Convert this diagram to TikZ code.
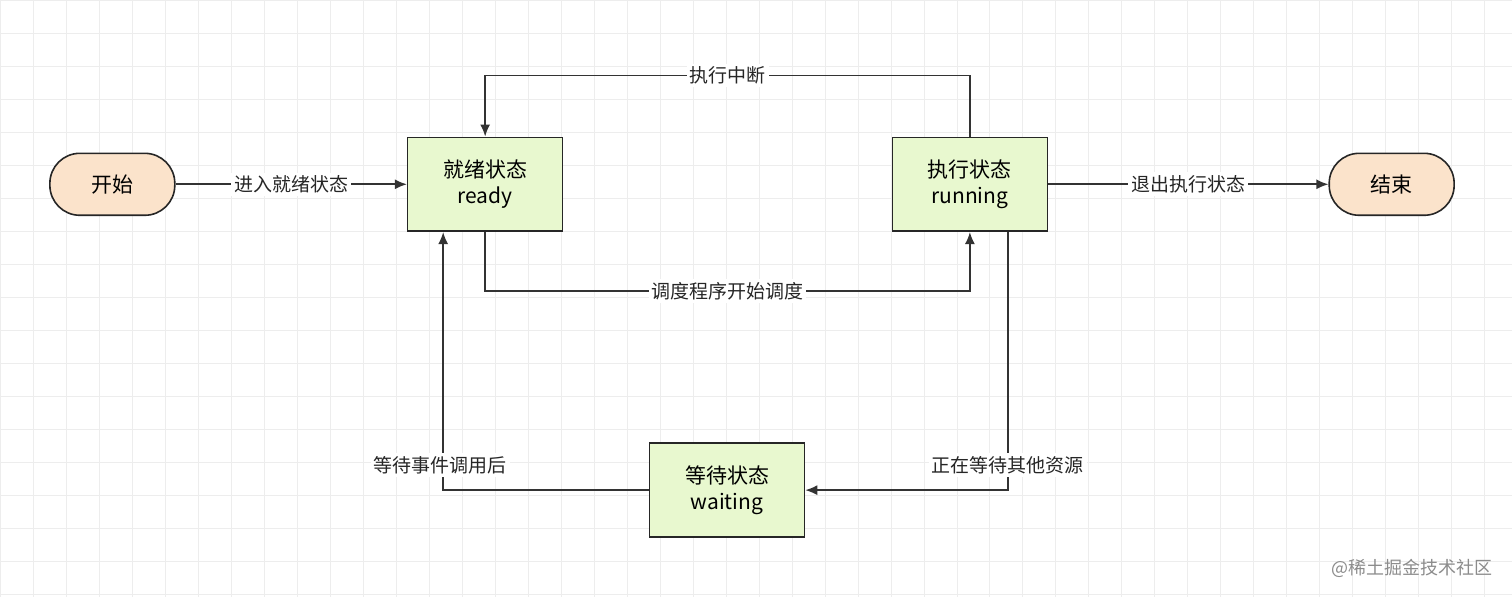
\documentclass[tikz,border=0pt]{standalone}
\usepackage{fontspec}
\setmainfont{Noto Sans CJK SC}
\definecolor{peach}{HTML}{FBE3CB}
\definecolor{lgreen}{HTML}{E8F8CF}
\definecolor{gridc}{HTML}{EDEDED}
\tikzset{
  term/.style={draw=black!85,thick,fill=peach,rounded corners=15pt,minimum width=62.5pt,minimum height=31pt,font=\fontsize{10.5}{12}\selectfont},
  state/.style={draw=black!85,thick,fill=lgreen,minimum width=77.5pt,minimum height=47pt,align=center,font=\fontsize{10.5}{13}\selectfont},
  lbl/.style={fill=white,inner sep=1.5pt,font=\fontsize{9.5}{11}\selectfont,text=black!85},
  conn/.style={draw=black!80,thick,-{Latex[length=6pt,width=5pt]}}
}
\usetikzlibrary{arrows.meta}
\begin{document}
\begin{tikzpicture}[x=0.5pt,y=-0.5pt]
\fill[white] (0,0) rectangle (1512,597);
\draw[gridc,line width=0.4pt,step=16.5pt] (0,0) grid (1512,597);
\useasboundingbox (0,0) rectangle (1512,597);

\node[term] (start) at (112,184) {开始};
\node[state] (ready) at (485,184) {就绪状态\\ready};
\node[state] (run) at (970,184) {执行状态\\running};
\node[term] (stop) at (1392,184) {结束};
\node[state] (wait) at (727,490) {等待状态\\waiting};

\path[conn] (start) -- node[lbl] {进入就绪状态} (ready);
\path[conn] (run) -- node[lbl] {退出执行状态} (stop);
\path[conn] (run.north) -- ++(0,-61) -| node[lbl,pos=0.25] {执行中断} (ready.north);
\path[conn] (ready.south) -- ++(0,59) -| node[lbl,pos=0.25] {调度程序开始调度} (run.south);
\path[conn] ([xshift=19pt]run.south) |- (wait.east);
\path[conn] (wait.west) -| ([xshift=-21pt]ready.south);
\node[lbl] (l1) at (1008,465) {正在等待其他资源};
\node[lbl] (l2) at (440,465) {等待事件调用后};
\node[font=\fontsize{9}{11}\selectfont,text=black!45,anchor=east] (wm) at (1500,568) {@稀土掘金技术社区};
\end{tikzpicture}
\end{document}
